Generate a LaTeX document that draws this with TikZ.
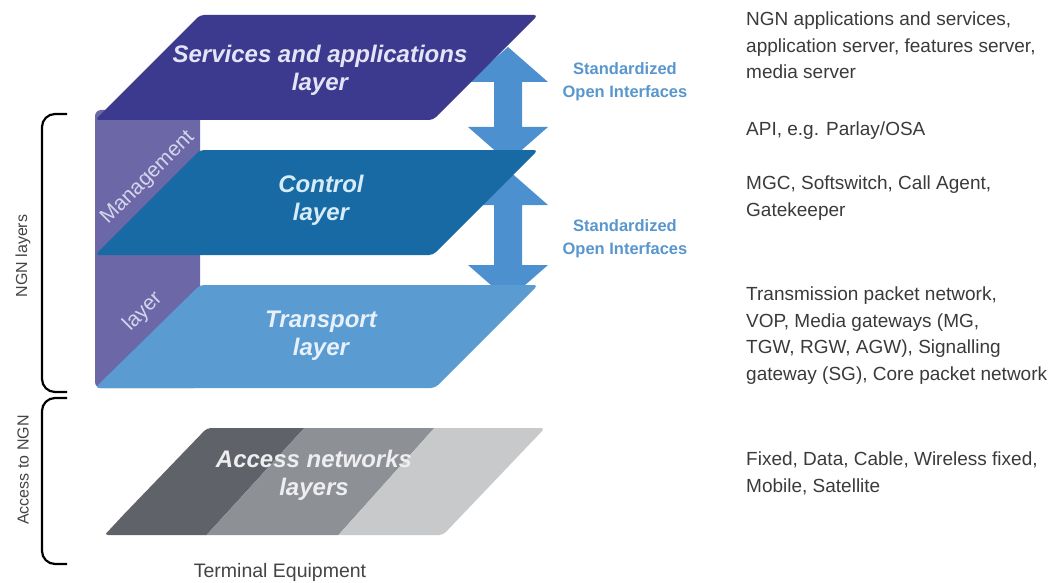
\documentclass[tikz,border=0pt]{standalone}
\usepackage{fontspec}
\setmainfont{Liberation Sans}
\definecolor{svc}{RGB}{59,58,142}
\definecolor{ctl}{RGB}{24,106,164}
\definecolor{trp}{RGB}{90,155,210}
\definecolor{mgmt}{RGB}{108,103,166}
\definecolor{arrowblue}{RGB}{76,144,208}
\definecolor{ifblue}{RGB}{88,150,205}
\definecolor{accdark}{RGB}{95,98,104}
\definecolor{accmid}{RGB}{141,144,148}
\definecolor{acclight}{RGB}{200,201,203}
\definecolor{bodytext}{RGB}{58,58,58}
\definecolor{sidetext}{RGB}{68,68,68}
\begin{document}
\begin{tikzpicture}[x=1pt,y=-1pt,
  layertext/.style={align=center,inner sep=0pt,
    font=\fontsize{24}{28}\selectfont\bfseries\itshape},
  desc/.style={anchor=north west,align=left,inner sep=0pt,text=bodytext,
    font=\fontsize{19}{26.5}\selectfont},
  iface/.style={align=center,inner sep=0pt,text=ifblue,
    font=\fontsize{16.5}{23}\selectfont\bfseries},
  mgmtlabel/.style={inner sep=0pt,rotate=45,text={rgb,255:red,214;green,212;blue,236},
    font=\fontsize{21}{24}\selectfont},
  bracket/.style={draw=black,line width=2.2pt,rounded corners=13pt},
  sidelabel/.style={inner sep=0pt,rotate=90,text=sidetext,
    font=\fontsize{16}{18}\selectfont},
  interface arrow/.style={fill=arrowblue}]
\useasboundingbox (0,0) rectangle (1057,583);

% management column behind the three NGN layers
\fill[mgmt,rounded corners=6pt] (95,110) rectangle (200,388);

% double block arrows between the layers (partly hidden by them)
\fill[interface arrow] (508,47) -- (548,82) -- (522,82) -- (522,127) -- (548,127)
  -- (508,162) -- (468,127) -- (494,127) -- (494,82) -- (468,82) -- cycle;
\fill[interface arrow] (508,170) -- (548,205) -- (522,205) -- (522,265) -- (548,265)
  -- (508,300) -- (468,265) -- (494,265) -- (494,205) -- (468,205) -- cycle;

% NGN layers
\fill[svc,rounded corners=4pt] (95,120) -- (200,15) -- (538,15) -- (433,120) -- cycle;
\fill[ctl,rounded corners=4pt] (95,255) -- (200,150) -- (538,150) -- (433,255) -- cycle;
\fill[trp,rounded corners=4pt] (95,388) -- (200,285) -- (538,285) -- (435,388) -- cycle;

% access networks layer, three shaded bands
\begin{scope}
  \clip[rounded corners=4pt] (104,535) -- (207,428) -- (545,428) -- (443,535) -- cycle;
  \fill[accdark]  (100,540) -- (207,425) -- (307,425) -- (202,540) -- cycle;
  \fill[accmid]   (202,540) -- (307,425) -- (437,425) -- (334,540) -- cycle;
  \fill[acclight] (334,540) -- (437,425) -- (550,425) -- (450,540) -- cycle;
\end{scope}

% layer titles
\node[layertext,text={rgb,255:red,228;green,228;blue,246}] (svcT) at (320,70)
  {Services and applications\\layer};
\node[layertext,text={rgb,255:red,214;green,236;blue,248}] (ctlT) at (321,200)
  {Control\\layer};
\node[layertext,text={rgb,255:red,232;green,241;blue,250}] (trpT) at (321,336)
  {Transport\\layer};
\node[layertext,text={rgb,255:red,238;green,238;blue,240}] (accT) at (314,475)
  {Access networks\\layers};

% management labels along the diagonal
\node[mgmtlabel] (mgmtA) at (148,178) {Management};
\node[mgmtlabel] (mgmtB) at (143,312) {layer};

% interface captions
\node[iface] (if1) at (625,82) {Standardized\\Open Interfaces};
\node[iface] (if2) at (625,239) {Standardized\\Open Interfaces};

% brackets on the left
\coordinate (b1t) at (67,114);
\coordinate (b1b) at (67,392);
\coordinate (b2t) at (67,398);
\coordinate (b2b) at (67,564);
\draw[bracket] (b1t) -- (42,114) -- (42,392) -- (b1b);
\draw[bracket] (b2t) -- (42,398) -- (42,564) -- (b2b);
\node[sidelabel] (ngnL) at (23,256) {NGN layers};
\node[sidelabel] (accL) at (23,470) {Access to NGN};

\node[inner sep=0pt,text=sidetext,font=\fontsize{19.5}{22}\selectfont] (term) at (280,572)
  {Terminal Equipment};

% descriptions on the right
\node[desc] (d1) at (746,12) {NGN applications and services,\\application server, features server,\\media server};
\node[desc] (d2) at (746,122) {API, e.g. Parlay/OSA};
\node[desc] (d3) at (746,176) {MGC, Softswitch, Call Agent,\\Gatekeeper};
\node[desc] (d4) at (746,287) {Transmission packet network,\\VOP, Media gateways (MG,\\TGW, RGW, AGW), Signalling\\gateway (SG), Core packet network};
\node[desc] (d5) at (746,452) {Fixed, Data, Cable, Wireless fixed,\\Mobile, Satellite};
\end{tikzpicture}
\end{document}
